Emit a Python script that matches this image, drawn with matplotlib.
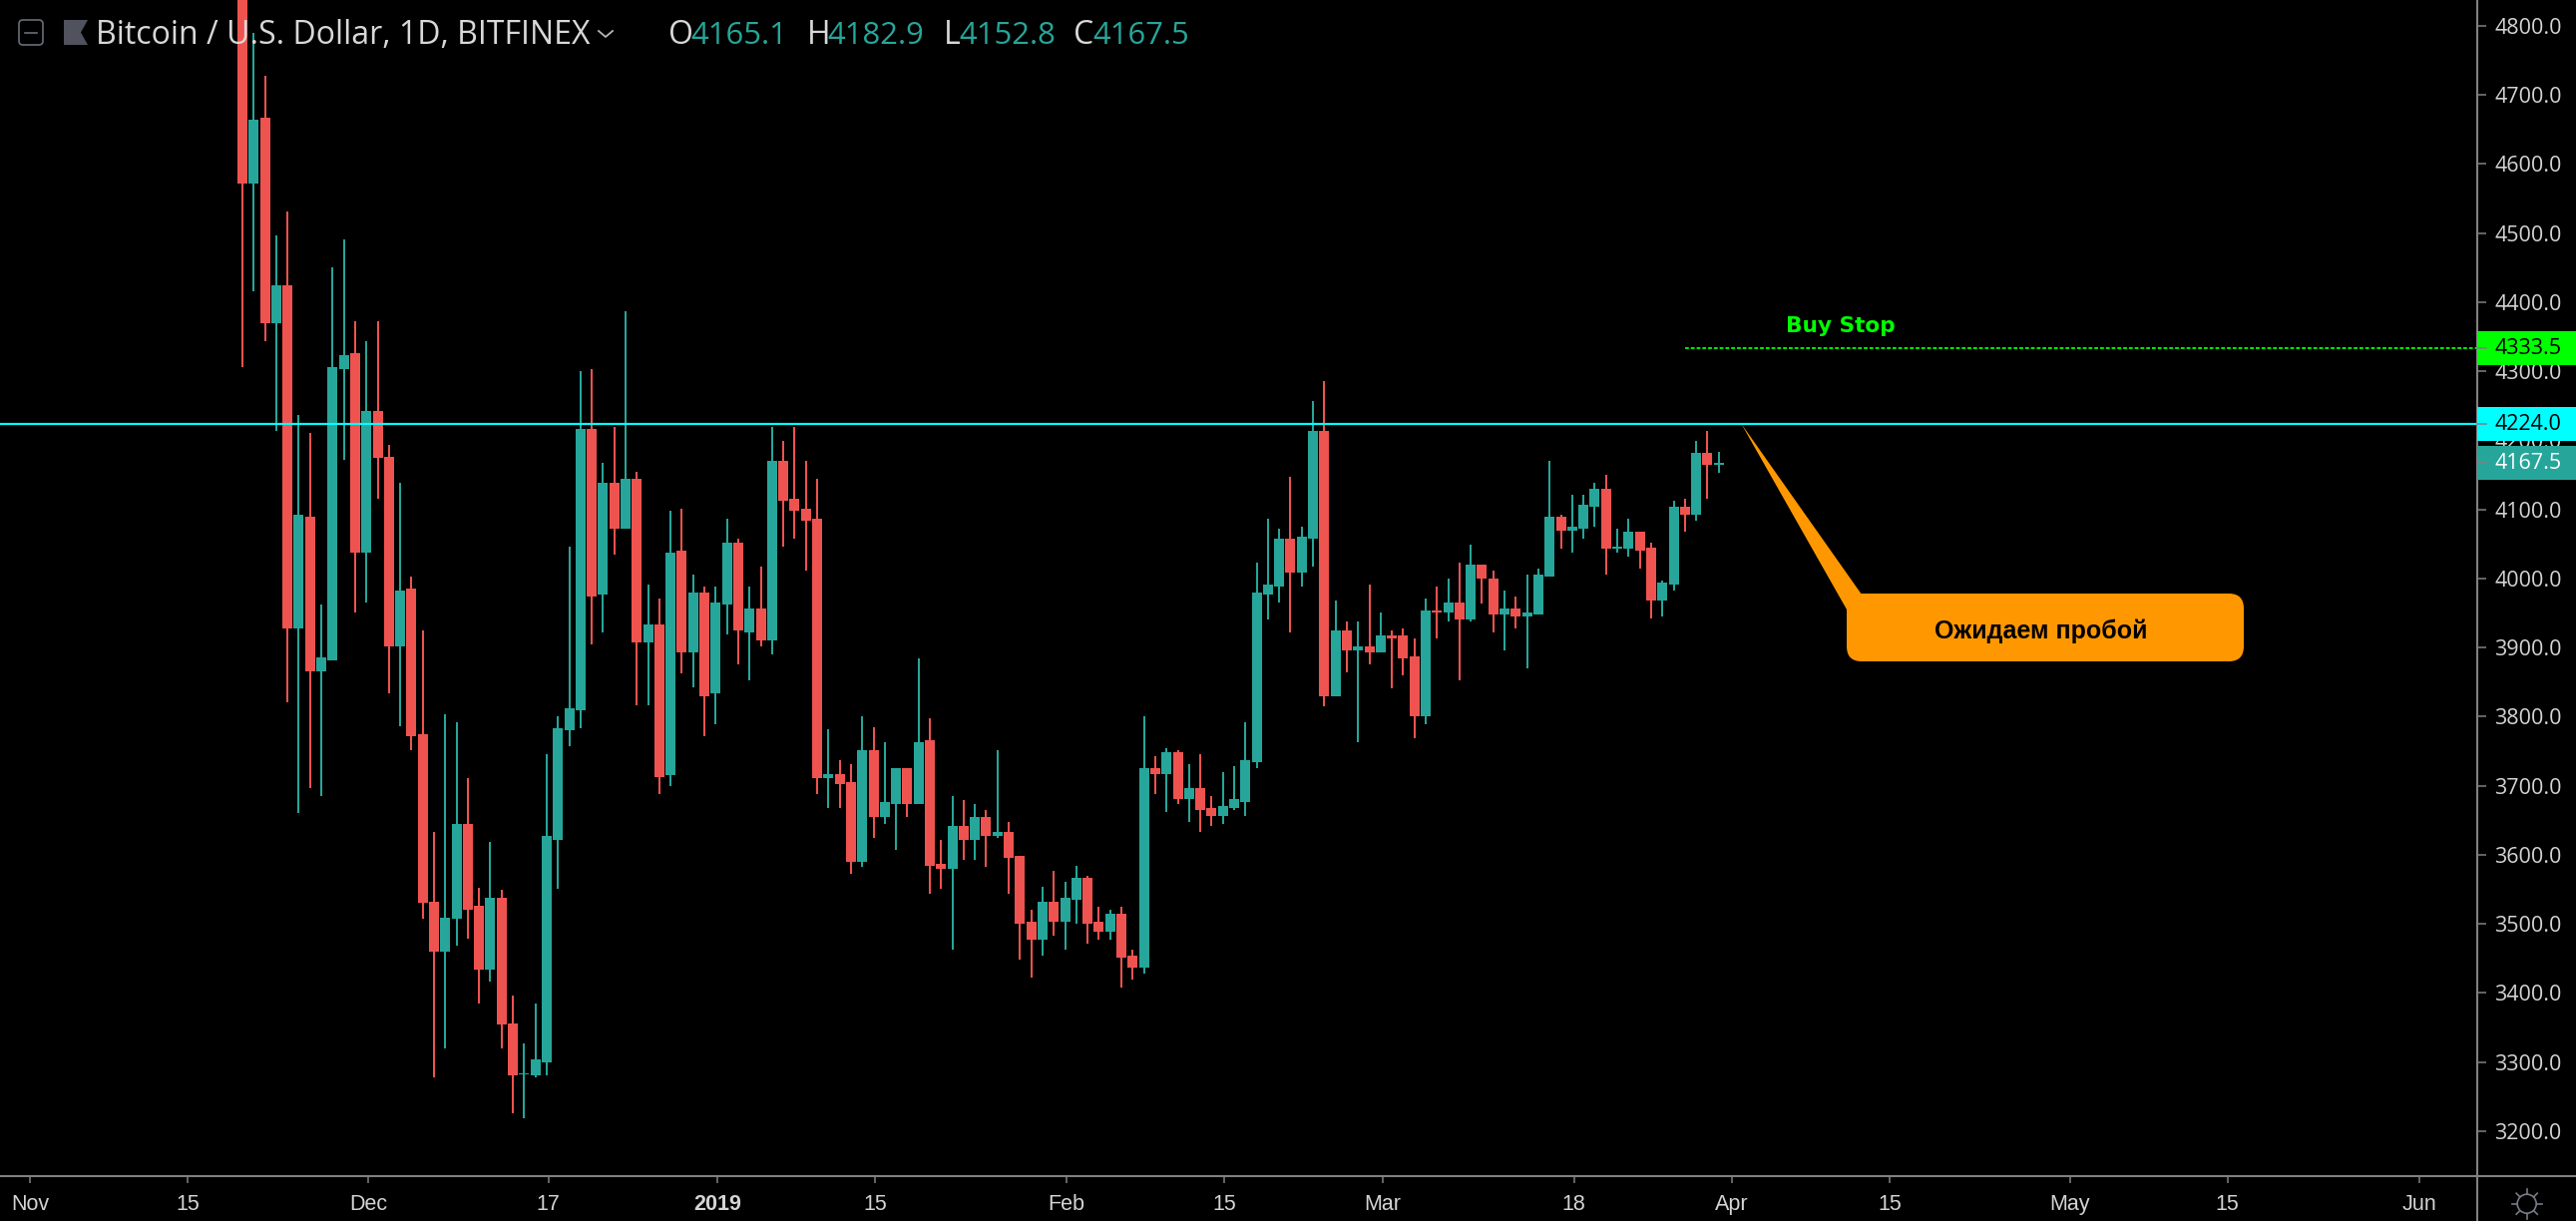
import pandas as pd
import matplotlib
matplotlib.use('Agg')
import matplotlib.pyplot as plt
import matplotlib.dates as mdates
from matplotlib.patches import Rectangle, FancyBboxPatch, Polygon, Circle
from matplotlib.transforms import Affine2D

# daily candles, Nov 20 2018 .. Mar 31 2019
opens = [4860, 4572, 4667, 4370, 4424, 3928, 4089, 3865, 3882, 4303, 4326, 4038, 4242, 4176, 3902, 3985,
         3774, 3532, 3460, 3507, 3644, 3526, 3434, 3538, 3356, 3282, 3281, 3299, 3622, 3780, 3809, 4217,
         3977, 4138, 4072, 4144, 3908, 3933, 3715, 4040, 3893, 3980, 3833, 3962, 4052, 3922, 3957, 3910,
         4170, 4116, 4101, 4087, 3711, 3717, 3705, 3590, 3752, 3654, 3674, 3726, 3674, 3766, 3587, 3579,
         3642, 3622, 3654, 3627, 3633, 3599, 3503, 3477, 3532, 3503, 3535, 3567, 3503, 3489, 3515, 3454,
         3437, 3726, 3717, 3749, 3680, 3697, 3668, 3656, 3668, 3676, 3734, 3977, 3988, 4058, 4009, 4058,
         4214, 3830, 3925, 3896, 3902, 3893, 3917, 3917, 3887, 3800, 3954, 3951, 3965, 3940, 4020, 4000,
         3948, 3957, 3945, 3948, 4003, 4090, 4069, 4072, 4104, 4130, 4043, 4043, 4067, 4044, 3968, 3991,
         4104, 4092, 4182, 4165.1]
highs = [4900, 4790, 4728, 4496, 4531, 4237, 4210, 3962, 4450, 4491, 4372, 4343, 4372, 4193, 4138, 4002,
         3925, 3633, 3804, 3792, 3711, 3552, 3619, 3549, 3396, 3327, 3385, 3746, 3800, 4046, 4300, 4303,
         4167, 4219, 4387, 4155, 3991, 3971, 4098, 4101, 4006, 3988, 3988, 4087, 4058, 3988, 4017, 4219,
         4199, 4219, 4170, 4144, 3781, 3737, 3731, 3801, 3784, 3763, 3726, 3726, 3884, 3798, 3622, 3685,
         3679, 3674, 3665, 3752, 3648, 3599, 3521, 3553, 3576, 3561, 3584, 3570, 3524, 3521, 3524, 3463,
         3801, 3743, 3755, 3752, 3731, 3746, 3685, 3720, 3729, 3792, 4023, 4087, 4072, 4147, 4075, 4257,
         4286, 3968, 3937, 3937, 3991, 3951, 3925, 3928, 3913, 3971, 3988, 4000, 4023, 4049, 4020, 4011,
         3983, 3974, 4006, 4014, 4170, 4092, 4121, 4121, 4138, 4150, 4072, 4087, 4067, 4052, 3997, 4113,
         4115, 4199, 4214, 4182.9]
lows = [4306, 4416, 4343, 4214, 3821, 3660, 3697, 3685, 3881, 4171, 3951, 3965, 4115, 3833, 3786, 3752,
        3507, 3278, 3319, 3469, 3478, 3385, 3417, 3319, 3226, 3218, 3278, 3281, 3550, 3757, 3783, 3905,
        3922, 4035, 4072, 3816, 3816, 3688, 3700, 3862, 3842, 3772, 3789, 3919, 3876, 3853, 3902, 3890,
        4046, 4058, 4012, 3688, 3668, 3668, 3573, 3582, 3625, 3645, 3607, 3654, 3674, 3544, 3550, 3463,
        3593, 3593, 3582, 3625, 3544, 3448, 3422, 3454, 3483, 3463, 3500, 3471, 3477, 3477, 3408, 3419,
        3428, 3688, 3662, 3673, 3648, 3633, 3642, 3645, 3665, 3656, 3726, 3940, 3965, 3922, 3988, 4017,
        3815, 3830, 3864, 3763, 3876, 3893, 3841, 3859, 3769, 3789, 3913, 3937, 3853, 3937, 3963, 3922,
        3896, 3928, 3870, 3948, 4003, 4043, 4037, 4057, 4075, 4006, 4037, 4032, 4014, 3942, 3945, 3983,
        4067, 4084, 4115, 4152.8]
closes = [4572, 4664, 4370, 4424, 3928, 4092, 3865, 3885, 4306, 4323, 4038, 4242, 4174, 3902, 3982, 3771,
          3530, 3460, 3509, 3644, 3521, 3434, 3538, 3354, 3281, 3284, 3304, 3627, 3783, 3812, 4217, 3974,
          4138, 4072, 4144, 3908, 3933, 3712, 4037, 3893, 3980, 3830, 3965, 4052, 3925, 3957, 3910, 4170,
          4113, 4098, 4084, 3711, 3717, 3702, 3590, 3752, 3654, 3676, 3726, 3674, 3763, 3584, 3579, 3642,
          3622, 3654, 3627, 3633, 3596, 3500, 3477, 3532, 3503, 3538, 3567, 3500, 3489, 3515, 3451, 3437,
          3726, 3717, 3749, 3680, 3697, 3665, 3656, 3671, 3680, 3737, 3980, 3991, 4058, 4009, 4060, 4214,
          3830, 3925, 3896, 3902, 3893, 3917, 3913, 3884, 3800, 3954, 3951, 3965, 3940, 4020, 4000, 3948,
          3957, 3945, 3951, 4006, 4090, 4069, 4075, 4107, 4130, 4043, 4046, 4067, 4040, 3968, 3994, 4104,
          4092, 4182, 4164, 4167.5]

start_date = '2018-11-20'
resistance = 4224.0
buy_stop = 4333.5
last_close = closes[-1]

price_ticks = [3200, 3300, 3400, 3500, 3600, 3700, 3800, 3900, 4000, 4100, 4200,
               4300, 4400, 4500, 4600, 4700, 4800]
date_ticks = ['2018-11-01', '2018-11-15', '2018-12-01', '2018-12-17', '2019-01-01', '2019-01-15',
              '2019-02-01', '2019-02-15', '2019-03-01', '2019-03-18', '2019-04-01', '2019-04-15',
              '2019-05-01', '2019-05-15', '2019-06-01']
date_labels = ['Nov', '15', 'Dec', '17', '2019', '15', 'Feb', '15', 'Mar', '18', 'Apr', '15', 'May', '15', 'Jun']

GREEN = '#26A69A'
RED = '#EF5350'
AXIS = '#808080'
W, H = 2582, 1224

fig = plt.figure(figsize=(W / 100, H / 100), dpi=100, facecolor='black')
# pixels from the top left corner, for the bits that are not data
px = Affine2D().scale(1 / W, -1 / H).translate(0, 1) + fig.transFigure

ax = fig.add_axes([0, 1 - 1179 / H, 2483 / W, 1179 / H], facecolor='black')
dates = mdates.date2num(pd.date_range(start_date, periods=len(opens), freq='D'))
ax.set_xlim(dates[0] - 21.51, dates[0] + 198.31)
ax.set_ylim(3134.8, 4837.3)

# candles
colors = [GREEN if c >= o else RED for o, c in zip(opens, closes)]
ax.vlines(dates, lows, highs, colors=colors, linewidth=1.45, zorder=2)
bottoms = [min(o, c) for o, c in zip(opens, closes)]
heights = [abs(o - c) for o, c in zip(opens, closes)]
ax.bar(dates, heights, bottom=bottoms, width=0.885, color=colors, linewidth=0, zorder=2)

# horizontal levels
ax.axhline(resistance, color='#00FFFF', linewidth=1.6, zorder=3)
ax.plot([mdates.date2num(pd.Timestamp('2019-03-28')), ax.get_xlim()[1]], [buy_stop, buy_stop],
        color='#00FF00', linewidth=1.3, linestyle=(0, (2.1, 1.1)), zorder=3)
fig.text(1845 / W, 1 - 327 / H, 'Buy Stop', color='#00FF00', fontsize=15.6, fontweight='bold',
         family='DejaVu Sans', ha='center', va='center', zorder=6)

# axes
for side in ['top', 'left']:
    ax.spines[side].set_visible(False)
for side in ['bottom', 'right']:
    ax.spines[side].set_color(AXIS)
    ax.spines[side].set_linewidth(1.5)

ax.yaxis.tick_right()
ax.set_yticks(price_ticks)
ax.set_yticklabels([f'{p:.1f}' for p in price_ticks], family='Open Sans', fontsize=15.5, color='#D4D4D4')
ax.tick_params(axis='y', length=6.5, width=1.1, color=AXIS, pad=6)
ax.set_xticks(mdates.date2num(pd.to_datetime(date_ticks)) + 0.15)
ax.set_xticklabels(date_labels, family='Liberation Sans', fontsize=15.5, color='#D4D4D4')
ax.tick_params(axis='x', length=5, width=1.1, color=AXIS, pad=8)
for lab in ax.get_xticklabels():
    if lab.get_text() == '2019':
        lab.set_fontweight('bold')

fig.add_artist(plt.Line2D([2483, 2483], [1179, H], color=AXIS, linewidth=1.5, transform=px))
fig.add_artist(plt.Line2D([2483, W], [1179, 1179], color=AXIS, linewidth=1.5, transform=px))

# price labels on the scale
price_tags = [(buy_stop, '#00FF00', 'black'), (resistance, '#00FFFF', 'black'), (last_close, GREEN, 'white')]
ytrans = ax.get_yaxis_transform()
for price, bg, fg in price_tags:
    ax.add_patch(Rectangle((1, price - 24.5), W / 2483 - 1, 49, facecolor=bg, edgecolor='none',
                           transform=ytrans, clip_on=False, zorder=7))
    ax.plot([1, 1.0036], [price, price], color=AXIS, linewidth=1.1, transform=ytrans, clip_on=False, zorder=8)
    ax.text(1.00685, price - 1.5, f'{price:.1f}', color=fg, family='Open Sans', fontsize=15.5, va='center',
            transform=ytrans, clip_on=False, zorder=8)

# callout
orange = '#FF9800'
fig.add_artist(Polygon([(1745.3, 424.7), (1866, 596), (1851, 611)], closed=True, facecolor=orange,
                       edgecolor='none', transform=px, zorder=6))
fig.add_artist(FancyBboxPatch((1851, 595), 398, 68, boxstyle='round,pad=0,rounding_size=15', facecolor=orange,
                              edgecolor='none', transform=px, zorder=6))
fig.text(2046 / W, 1 - 633 / H, 'Ожидаем пробой', color='black', family='Liberation Sans', fontweight='bold',
         fontsize=18, ha='center', va='center', zorder=7)

# header
fig.add_artist(FancyBboxPatch((19, 20), 24, 25, boxstyle='round,pad=0,rounding_size=4', facecolor='none',
                              edgecolor='#6A6D78', linewidth=1.2, transform=px, zorder=6))
fig.add_artist(plt.Line2D([25, 37], [32.5, 32.5], color='#6A6D78', linewidth=1.2, transform=px, zorder=6))
fig.add_artist(Polygon([(64, 20), (88, 20), (81, 32.5), (88, 45), (64, 45)], closed=True, facecolor='#50535E',
                       edgecolor='none', transform=px, zorder=6))
title_kw = dict(family='Open Sans', va='baseline', zorder=7)
fig.text(96 / W, 1 - 43.5 / H, 'Bitcoin / U.S. Dollar, 1D, BITFINEX', color='#D8D8D8', fontsize=23, **title_kw)
fig.add_artist(plt.Line2D([600, 607, 614], [31, 37, 31], color='#B8B8B8', linewidth=1.3, transform=px, zorder=7))
ohlc = [('O', 670, '4165.1', 692), ('H', 809, '4182.9', 829), ('L', 946, '4152.8', 961), ('C', 1076, '4167.5', 1095)]
for name, xn, val, xv in ohlc:
    fig.text(xn / W, 1 - 43.5 / H, name, color='#D8D8D8', fontsize=23, **title_kw)
    fig.text(xv / W, 1 - 43.5 / H, val, color=GREEN, fontsize=22.3, **title_kw)

# settings icon
sun = '#787B86'
fig.add_artist(Circle((2532.7, 1206.7), 9.5, facecolor='none', edgecolor=sun, linewidth=1.2, transform=px))
for dx, dy in [(1, 0), (-1, 0), (0, 1), (0, -1), (.7, .7), (-.7, .7), (.7, -.7), (-.7, -.7)]:
    fig.add_artist(plt.Line2D([2532.7 + 10 * dx, 2532.7 + 15 * dx], [1206.7 + 10 * dy, 1206.7 + 15 * dy],
                              color=sun, linewidth=1.2, transform=px))

fig.savefig('out.png', dpi=100, facecolor='black')
